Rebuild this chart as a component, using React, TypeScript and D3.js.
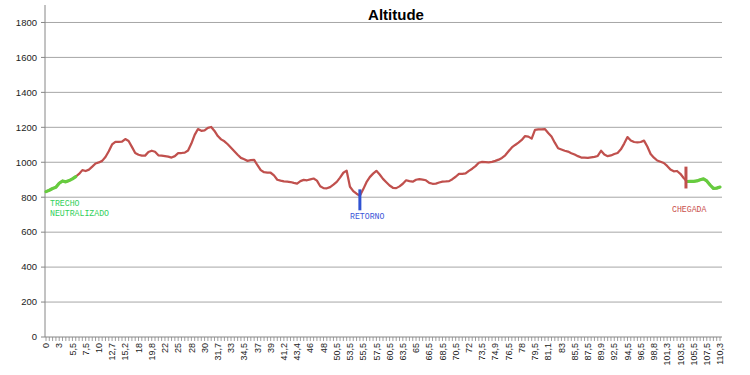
import React from "react";
import * as d3 from "d3";

// km labels shown on the axis (one every LABEL_STEP points)
const kmLabels = [
  "0", "3", "5,5", "7,5", "10", "12,7", "15,2", "18", "19,8", "22", "25", "28", "30",
  "31,7", "33", "34,5", "37", "39", "41,2", "43,4", "46", "48", "50,5", "53,5", "55,5",
  "57,5", "60,5", "63,5", "65", "66,5", "68,5", "70,5", "72", "73,5", "74,9", "76,5",
  "78", "79,5", "81,1", "83", "85,5", "87,5", "89,9", "92,5", "94,5", "96,5", "98,8",
  "101,3", "103,5", "105,5", "107,5", "110,3",
];
const LABEL_STEP = 4;

// altitude (m) at every point of the route
const altitude = [
  832, 840, 850, 857, 880, 893, 888, 895, 905, 918,
  933, 955, 950, 958, 975, 993, 999, 1008, 1030, 1063,
  1102, 1117, 1117, 1118, 1133, 1122, 1088, 1053, 1043, 1038,
  1038, 1059, 1066, 1060, 1040, 1038, 1035, 1032, 1027, 1035,
  1052, 1053, 1055, 1067, 1107, 1157, 1190, 1180, 1183, 1197,
  1202, 1179, 1150, 1131, 1120, 1103, 1083, 1063, 1043, 1025,
  1017, 1008, 1012, 1014, 983, 955, 943, 941, 940, 925,
  900, 895, 891, 889, 887, 882, 878, 892, 899, 897,
  902, 907, 895, 863, 852, 851, 858, 872, 888, 912,
  940, 952, 860, 835, 820, 808, 845, 886, 915, 935,
  951, 930, 905, 886, 867, 854, 852, 862, 877, 897,
  892, 889, 900, 903, 901, 897, 882, 877, 878, 884,
  889, 890, 892, 903, 917, 934, 934, 936, 951, 963,
  978, 997, 1002, 1001, 1000, 1002, 1008, 1015, 1025, 1040,
  1063, 1085, 1099, 1112, 1128, 1150, 1147, 1135, 1185, 1188,
  1188, 1190, 1168, 1147, 1112, 1080, 1073, 1066, 1061, 1052,
  1044, 1035, 1027, 1026, 1025, 1028, 1031, 1036, 1066, 1044,
  1035, 1039, 1047, 1053, 1074, 1107, 1144, 1125, 1116, 1114,
  1116, 1124, 1090, 1047, 1026, 1010, 1003, 996, 979, 958,
  948, 950, 934, 910, 890, 891, 891, 893, 900, 905,
  893, 870, 850, 852, 858,
];

// neutralised stretches (point index ranges)
const neutralRanges = [
  [0, 9],
  [194, 204],
];

// vertical markers: retorno and chegada
const markerIndex = [95, 194];
const markerTop = [845, 975];
const markerBottom = [725, 850];

const yTicks = [0, 200, 400, 600, 800, 1000, 1200, 1400, 1600, 1800];

const App = () => {
  const width = 750;
  const height = 375;
  const left = 46;
  const right = 720;
  const top = 5;
  const bottom = 337;

  const x = d3
    .scalePoint<number>()
    .domain(altitude.map((_, i) => i))
    .range([left, right]);

  const y = d3.scaleLinear().domain([0, 1900]).range([bottom, top]);

  const line = d3
    .line<number>()
    .x((_, i) => x(i)!)
    .y((d) => y(d));

  const segment = (from: number, to: number) =>
    d3
      .line<number>()
      .x((i) => x(i)!)
      .y((i) => y(altitude[i]))(d3.range(from, to + 1));

  const font = "'Liberation Sans', Arial, sans-serif";
  const mono = "'Liberation Mono', 'DejaVu Sans Mono', monospace";

  return (
    <svg
      width={width}
      height={height}
      style={{ position: "absolute", left: 0, top: 0, background: "#fff" }}
    >
      <text
        x={396}
        y={20}
        textAnchor="middle"
        fontFamily={font}
        fontWeight="bold"
        fontSize={15}
        fill="#000"
      >
        Altitude
      </text>

      {/* gridlines + y labels */}
      {yTicks.map((t) => (
        <g key={t}>
          {t > 0 && (
            <line x1={left - 1} x2={722} y1={y(t)} y2={y(t)} stroke="#a6a6a6" strokeWidth={1} />
          )}
          <line x1={left - 5} x2={left - 1} y1={y(t)} y2={y(t)} stroke="#868686" />
          <text
            x={37}
            y={y(t)}
            dy="0.35em"
            textAnchor="end"
            fontFamily={font}
            fontSize={9.5}
            fill="#222"
          >
            {t}
          </text>
        </g>
      ))}

      {/* axes */}
      <line x1={left - 1} x2={left - 1} y1={top} y2={bottom} stroke="#868686" />
      <line x1={left - 1} x2={722} y1={bottom} y2={bottom} stroke="#868686" />
      {altitude.map((_, i) => (
        <line
          key={i}
          x1={x(i)}
          x2={x(i)}
          y1={bottom}
          y2={bottom + 4}
          stroke="#868686"
          strokeWidth={0.8}
        />
      ))}
      {kmLabels.map((k, j) => {
        const px = x(j * LABEL_STEP)!;
        return (
          <text
            key={k}
            transform={`translate(${px},${bottom + 6}) rotate(-90)`}
            dy="0.35em"
            textAnchor="end"
            fontFamily={font}
            fontSize={9}
            fill="#222"
          >
            {k}
          </text>
        );
      })}

      {/* profile */}
      <path d={line(altitude)!} fill="none" stroke="#c0504d" strokeWidth={2.25} strokeLinejoin="round" />
      {neutralRanges.map(([a, b]) => (
        <path
          key={a}
          d={segment(a, b)!}
          fill="none"
          stroke="#66cc3f"
          strokeWidth={3.2}
          strokeLinejoin="round"
          strokeLinecap="round"
        />
      ))}

      {/* markers */}
      <line
        x1={x(markerIndex[0])}
        x2={x(markerIndex[0])}
        y1={y(markerTop[0])}
        y2={y(markerBottom[0])}
        stroke="#3053d2"
        strokeWidth={3}
      />
      <line
        x1={x(markerIndex[1])! - 1}
        x2={x(markerIndex[1])! - 1}
        y1={y(markerTop[1])}
        y2={y(markerBottom[1])}
        stroke="#c0504d"
        strokeWidth={3}
      />

      {/* notes */}
      <text x={50} y={206} fontFamily={mono} fontSize={8.2} fill="#2fd05a">
        TRECHO
      </text>
      <text x={50} y={216} fontFamily={mono} fontSize={8.2} fill="#2fd05a">
        NEUTRALIZADO
      </text>
      <text x={350} y={219} fontFamily={mono} fontSize={8.2} fill="#3a55d8">
        RETORNO
      </text>
      <text x={672} y={212} fontFamily={mono} fontSize={8.2} fill="#c9504d">
        CHEGADA
      </text>
    </svg>
  );
};

export default App;
